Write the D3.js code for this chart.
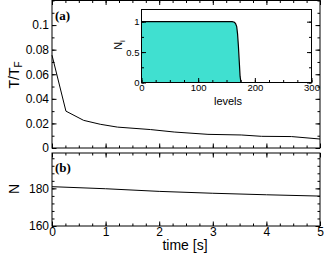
<!DOCTYPE html>
<html>
<head>
<meta charset="utf-8">
<script src="https://cdn.jsdelivr.net/npm/d3@7"></script>
<style>
  body { margin: 0; background: #fff; }
  svg { display: block; font-family: "Liberation Sans", Arial, sans-serif; }
</style>
</head>
<body>
<div id="container"></div>
<script>
// panel (a): temperature vs time
const timeT = [0, 0.26, 0.59, 0.9, 1.22, 1.84, 2.28, 2.91, 3.53, 3.91, 4.47, 5];
const tempT = [0.0755, 0.030, 0.0225, 0.0193, 0.017, 0.0150, 0.013, 0.0111, 0.0106, 0.0095, 0.0093, 0.0073];
// panel (b): particle number vs time
const timeN = [0, 1, 2, 3, 4, 5];
const numN = [180.9, 179.8, 178.4, 177.4, 176.6, 175.9];
// inset: occupation of levels
const levels = [0, 160, 164, 166, 168, 169.5, 171, 172.5, 174, 175.5, 300];
const occupation = [1, 1, 0.99, 0.97, 0.92, 0.8, 0.6, 0.35, 0.1, 0, 0];

const timeTicks = [0, 1, 2, 3, 4, 5];
const tempTicks = [0, 0.02, 0.04, 0.06, 0.08, 0.1];
const numTicks = [160, 180];
const levelTicks = [0, 100, 200, 300];
const occTicks = [0, 0.5, 1];

const w = 327, h = 255;
const left = 52, right = 320;

const svg = d3.select('#container').append('svg')
    .attr('width', w).attr('height', h);

const x = d3.scaleLinear().domain([0, 5]).range([left, right]);
const yT = d3.scaleLinear().domain([0, 0.12]).range([148, 0.5]);
const yN = d3.scaleLinear().domain([160, 198.8]).range([226, 153]);

const minorTime = d3.range(0, 5.01, 0.25);

function frame(g, x0, y0, x1, y1) {
  g.append('rect')
    .attr('x', x0).attr('y', y0)
    .attr('width', x1 - x0).attr('height', y1 - y0)
    .attr('fill', 'none').attr('stroke', '#000').attr('stroke-width', 1);
}

// draws major+minor inward ticks on one side
function ticks(g, axisFn, scale, major, minor, bigT, smallT, fmt, pos, pad) {
  const a = g.append('g').attr('transform', pos)
    .call(axisFn(scale).tickValues(minor).tickSize(-smallT).tickFormat(''));
  a.select('.domain').remove();
  const b = g.append('g').attr('transform', pos)
    .call(axisFn(scale).tickValues(major).tickSize(-bigT).tickPadding(pad).tickFormat(fmt));
  b.select('.domain').remove();
  g.selectAll('.tick line').attr('stroke', '#000');
  return b;
}

// ---------- panel (a)
const pa = svg.append('g');
frame(pa, left, yT(0.12), right, yT(0));
const ya = ticks(pa, d3.axisLeft, yT, tempTicks, d3.range(0, 0.121, 0.01), 4.5, 2.5, d => String(d), `translate(${left},0)`, 3);
ya.selectAll('text').attr('font-size', 12).attr('fill', '#000');
ticks(pa, d3.axisRight, yT, tempTicks, d3.range(0, 0.121, 0.01), 4.5, 2.5, '', `translate(${right},0)`, 3);
ticks(pa, d3.axisBottom, x, timeTicks, minorTime, 4.5, 2.5, '', `translate(0,${yT(0)})`, 3);
ticks(pa, d3.axisTop, x, timeTicks, minorTime, 4.5, 2.5, '', `translate(0,${yT(0.12)})`, 3);

pa.append('path')
  .datum(timeT.map((t, i) => [t, tempT[i]]))
  .attr('fill', 'none').attr('stroke', '#000').attr('stroke-width', 1)
  .attr('d', d3.line().x(d => x(d[0])).y(d => yT(d[1])));

pa.append('text').attr('x', 55).attr('y', 20)
  .attr('font-family', '"Liberation Serif", serif').attr('font-weight', 'bold')
  .attr('font-size', 13).text('(a)');

const lt = pa.append('text')
  .attr('transform', 'translate(19,75) rotate(-90)')
  .attr('text-anchor', 'middle').attr('font-size', 14);
lt.append('tspan').text('T/T');
lt.append('tspan').attr('font-size', 10).attr('dy', 3).text('F');

// ---------- inset
const ix = d3.scaleLinear().domain([0, 300]).range([141.5, 311.5]);
const iy = d3.scaleLinear().domain([0, 1.2]).range([82.5, 9.5]);
const ins = svg.append('g');
ins.append('rect').attr('x', ix(0)).attr('y', iy(1.2))
  .attr('width', ix(300) - ix(0)).attr('height', iy(0) - iy(1.2)).attr('fill', '#fff');

const occ = levels.map((l, i) => [l, occupation[i]]);
ins.append('path').datum(occ)
  .attr('fill', '#40e0d0')
  .attr('d', d3.area().x(d => ix(d[0])).y0(iy(0)).y1(d => iy(d[1])));
ins.append('path').datum(occ)
  .attr('fill', 'none').attr('stroke', '#000').attr('stroke-width', 1.2)
  .attr('d', d3.line().x(d => ix(d[0])).y(d => iy(d[1])));

frame(ins, ix(0), iy(1.2), ix(300), iy(0));
const iya = ticks(ins, d3.axisLeft, iy, occTicks, d3.range(0, 1.21, 0.25), 4.5, 2.5, d => String(d), `translate(${ix(0)},0)`, 2);
iya.selectAll('text').attr('font-size', 9.5).attr('fill', '#000');
ticks(ins, d3.axisRight, iy, occTicks, d3.range(0, 1.21, 0.25), 4.5, 2.5, '', `translate(${ix(300)},0)`, 2);
const ixa = ticks(ins, d3.axisBottom, ix, levelTicks, d3.range(0, 301, 25), 4.5, 2.5, d => String(d), `translate(0,${iy(0)})`, 2);
ixa.selectAll('text').attr('font-size', 9.5).attr('fill', '#000');

ins.append('text').attr('x', 228).attr('y', 105)
  .attr('text-anchor', 'middle').attr('font-size', 11).text('levels');
const li = ins.append('text')
  .attr('transform', 'translate(122,45) rotate(-90)')
  .attr('text-anchor', 'middle').attr('font-size', 11);
li.append('tspan').text('N');
li.append('tspan').attr('font-size', 8).attr('dy', 2.5).text('i');

// ---------- panel (b)
const pb = svg.append('g');
frame(pb, left, yN(198.8), right, yN(160));
const yb = ticks(pb, d3.axisLeft, yN, numTicks, d3.range(160, 198.8, 4), 4.5, 2.5, d => String(d), `translate(${left},0)`, 3);
yb.selectAll('text').attr('font-size', 12).attr('fill', '#000');
ticks(pb, d3.axisRight, yN, numTicks, d3.range(160, 198.8, 4), 4.5, 2.5, '', `translate(${right},0)`, 3);
const xb = ticks(pb, d3.axisBottom, x, timeTicks, minorTime, 4.5, 2.5, d => String(d), `translate(0,${yN(160)})`, 1);
xb.selectAll('text').attr('font-size', 12).attr('fill', '#000');
ticks(pb, d3.axisTop, x, timeTicks, minorTime, 4.5, 2.5, '', `translate(0,${yN(198.8)})`, 3);

pb.append('path')
  .datum(timeN.map((t, i) => [t, numN[i]]))
  .attr('fill', 'none').attr('stroke', '#000').attr('stroke-width', 1)
  .attr('d', d3.line().x(d => x(d[0])).y(d => yN(d[1])));

pb.append('text').attr('x', 55).attr('y', 172)
  .attr('font-family', '"Liberation Serif", serif').attr('font-weight', 'bold')
  .attr('font-size', 13).text('(b)');

pb.append('text')
  .attr('transform', 'translate(19,189) rotate(-90)')
  .attr('text-anchor', 'middle').attr('font-size', 14).text('N');

svg.append('text').attr('x', 185).attr('y', 250)
  .attr('text-anchor', 'middle').attr('font-size', 14).text('time [s]');
</script>
</body>
</html>
